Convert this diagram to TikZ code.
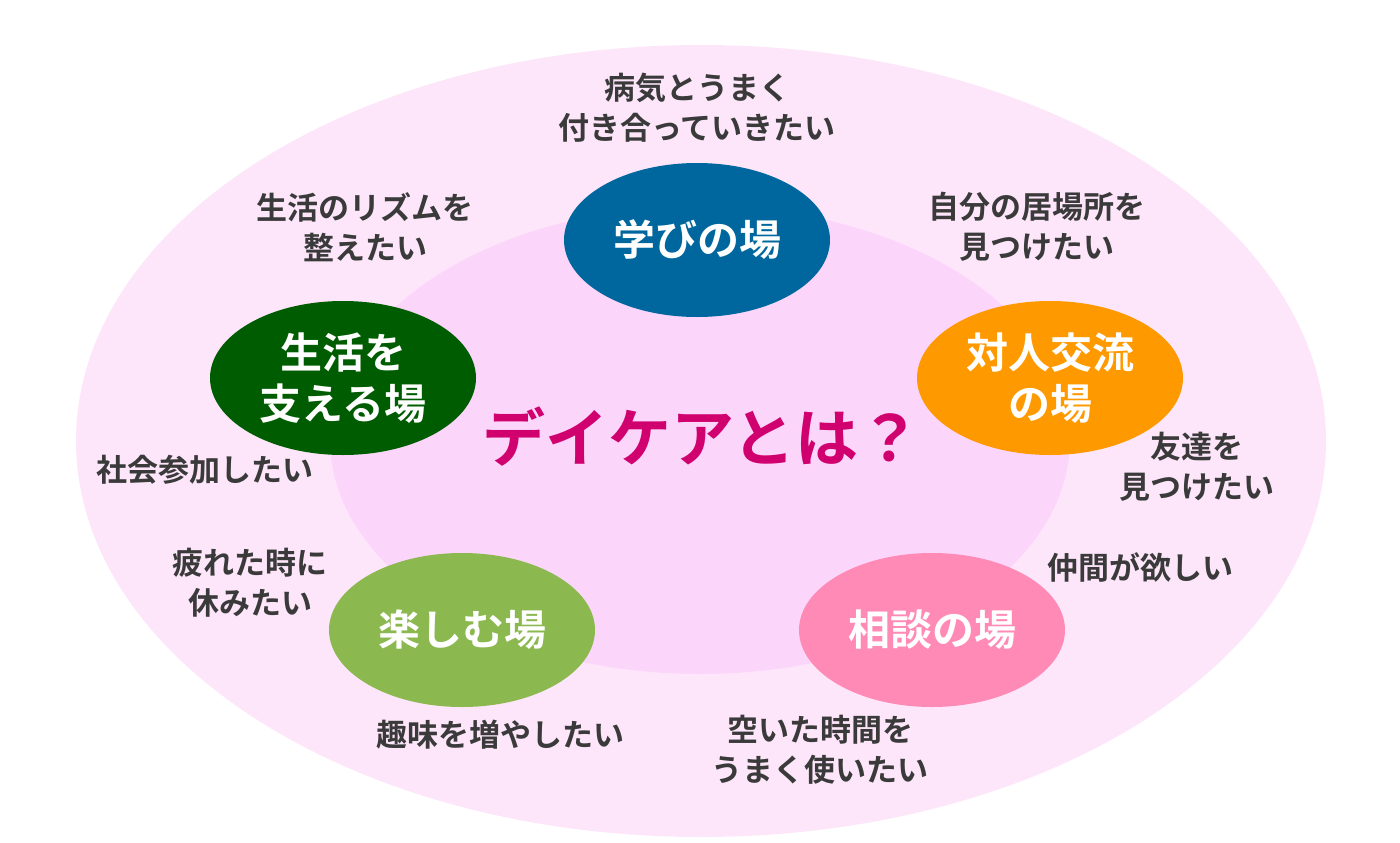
\documentclass[tikz,border=0pt]{standalone}
\usepackage{fontspec}
\newfontfamily\jp{Noto Sans CJK JP}[BoldFont={* Bold}]
\definecolor{outerpink}{HTML}{FDE6FA}
\definecolor{innerpink}{HTML}{FBD6FA}
\definecolor{cblue}{HTML}{00679E}
\definecolor{cdgreen}{HTML}{005C00}
\definecolor{corange}{HTML}{FF9900}
\definecolor{clgreen}{HTML}{8CB850}
\definecolor{cpink}{HTML}{FF8AB5}
\definecolor{cmag}{HTML}{D0006F}
\definecolor{ctext}{HTML}{3A3A3A}
\tikzset{
  place/.style={ellipse, minimum width=266pt, minimum height=154pt, inner sep=0pt, text=white, align=center,
    font=\jp\bfseries\fontsize{42}{51}\selectfont},
  wish/.style={text=ctext, align=center, inner sep=0pt, font=\jp\bfseries\fontsize{31}{40}\selectfont},
}
\usetikzlibrary{shapes.geometric}
\begin{document}
\begin{tikzpicture}[x=1pt,y=-1pt]
\useasboundingbox (0,0) rectangle (1400,843);
\fill[outerpink] (701,441) ellipse [x radius=625, y radius=396];
\fill[innerpink] (700,440) ellipse [x radius=370, y radius=234];
\node[place, fill=cblue] (manabi) at (697,240) {学びの場};
\node[place, fill=cdgreen] (seikatsu) at (343,378) {生活を\\支える場};
\node[place, fill=corange] (taijin) at (1050,378) {対人交流\\の場};
\node[place, fill=clgreen] (tanoshimu) at (462,630) {楽しむ場};
\node[place, fill=cpink] (soudan) at (932,630) {相談の場};
\node[text=cmag, inner sep=0pt, font=\jp\bfseries\fontsize{63}{65}\selectfont] (title) at (702,437) {デイケアとは？};
\node[wish] (w1) at (697,108) {病気とうまく\\付き合っていきたい};
\node[wish] (w2) at (365,227) {生活のリズムを\\整えたい};
\node[wish] (w3) at (1037,227) {自分の居場所を\\見つけたい};
\node[wish] (w4) at (205,470) {社会参加したい};
\node[wish] (w5) at (1197,467) {友達を\\見つけたい};
\node[wish] (w6) at (1140,567) {仲間が欲しい};
\node[wish] (w7) at (250,583) {疲れた時に\\休みたい};
\node[wish] (w8) at (500,735) {趣味を増やしたい};
\node[wish] (w9) at (820,750) {空いた時間を\\うまく使いたい};
\end{tikzpicture}
\end{document}
